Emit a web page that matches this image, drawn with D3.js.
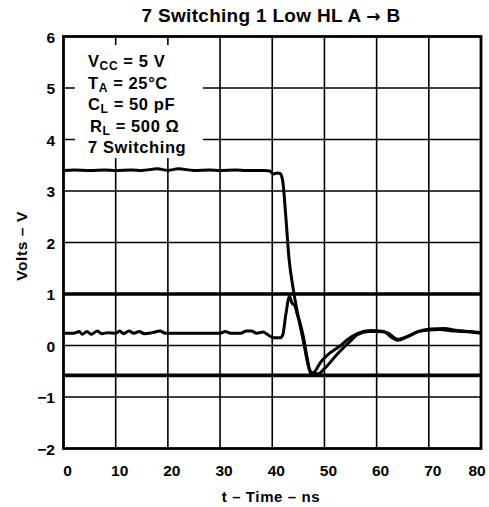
<!DOCTYPE html>
<html><head><meta charset="utf-8">
<script src="https://cdn.jsdelivr.net/npm/d3@7"></script>
<style>
html,body{margin:0;padding:0;background:#fff;}
svg{display:block;font-family:"Liberation Sans",Arial,Helvetica,sans-serif;font-weight:bold;}
</style></head>
<body><svg id="c" width="489" height="507"></svg>
<script>
const titleParts = ["7 Switching 1 Low HL A ", "\u2192", " B"];
const xLabel = "t \u2013 Time \u2013 ns";
const yLabel = "Volts \u2013 V";
const xTicks = [0,10,20,30,40,50,60,70,80];
const yTicks = [-2,-1,0,1,2,3,4,5,6];
const thresholds = [1, -0.58];
const legendLines = [
  ["V","CC"," = 5 V"],
  ["T","A"," = 25\u00B0C"],
  ["C","L"," = 50 pF"],
  ["R","L"," = 500 \u03A9"],
  ["7 Switching","",""]
];
// Trace A: switching output, high to low
const tA = [0,2,5,8,10,13,15,18,20,22,25,28,30,33,35,37,38.5,39.5,40.3,41,41.5,42,42.6,43.2,44.1,45.1,46,46.7,47.2,47.8,49.3,51,53.1,54.5,56.3,58.9,61.4,62.7,64,65.9,67.9,70.4,72.9,75.5,78.1,80];
const vA = [3.40,3.41,3.40,3.41,3.40,3.41,3.40,3.43,3.40,3.43,3.40,3.41,3.40,3.41,3.40,3.40,3.40,3.39,3.33,3.35,3.34,3.2,2.5,1.7,1.05,0.5,0.07,-0.3,-0.48,-0.53,-0.32,-0.15,0.0,0.12,0.23,0.29,0.27,0.17,0.1,0.17,0.27,0.32,0.33,0.29,0.27,0.25];
// Trace B: quiet low output with ground bounce
const tB = [0,2,3,3.6,4.5,5.3,6.5,7.3,8.5,10,10.8,11.5,12.5,13.5,14.5,15.5,17,18.5,19.5,25,30,31,32,34,35,36,37,38.3,39,40.2,41.5,42,42.6,43.3,43.8,44.3,44.8,45.3,45.9,46.6,47.2,47.6,48.8,50,52.6,55.1,56.3,58.5,60,62,64,66,68,70,72,75,78,80];
const vB = [0.24,0.24,0.27,0.22,0.27,0.22,0.28,0.23,0.25,0.24,0.28,0.23,0.28,0.24,0.27,0.23,0.25,0.28,0.24,0.24,0.24,0.27,0.24,0.24,0.28,0.28,0.24,0.26,0.22,0.15,0.15,0.2,0.6,0.95,0.82,0.78,0.6,0.45,0.2,-0.19,-0.5,-0.55,-0.55,-0.45,-0.15,0.1,0.21,0.27,0.27,0.25,0.12,0.18,0.27,0.3,0.31,0.28,0.26,0.24];

const svg = d3.select("#c");
const x = d3.scaleLinear().domain([0,80]).range([63.5,481]);
const y = d3.scaleLinear().domain([-2,6]).range([448.5,36.5]);

// grid
const g = svg.append("g");
g.selectAll(".vg").data(xTicks.slice(1,-1)).enter().append("line")
  .attr("x1",d=>x(d)).attr("x2",d=>x(d)).attr("y1",y(6)).attr("y2",y(-2))
  .attr("stroke","#000").attr("stroke-width",1.6);
g.selectAll(".hg").data(yTicks.slice(1,-1)).enter().append("line")
  .attr("y1",d=>y(d)).attr("y2",d=>y(d)).attr("x1",x(0)).attr("x2",x(80))
  .attr("stroke","#000").attr("stroke-width",1.6);
g.selectAll(".th").data(thresholds).enter().append("line")
  .attr("y1",d=>y(d)).attr("y2",d=>y(d)).attr("x1",x(0)).attr("x2",x(80))
  .attr("stroke","#000").attr("stroke-width",3.6);

// legend background box
svg.append("rect").attr("x",75).attr("y",45).attr("width",128).attr("height",113).attr("fill","#fff");

// traces
const line = d3.line().x(d=>x(d[0])).y(d=>y(d[1])).curve(d3.curveMonotoneX);
svg.append("path").datum(tA.map((t,i)=>[t,vA[i]])).attr("d",line)
  .attr("fill","none").attr("stroke","#000").attr("stroke-width",3).attr("stroke-linejoin","round");
svg.append("path").datum(tB.map((t,i)=>[t,vB[i]])).attr("d",line)
  .attr("fill","none").attr("stroke","#000").attr("stroke-width",3).attr("stroke-linejoin","round");

// frame
svg.append("rect").attr("x",x(0)).attr("y",y(6)).attr("width",x(80)-x(0)).attr("height",y(-2)-y(6))
  .attr("fill","none").attr("stroke","#000").attr("stroke-width",2.8);

// tick labels
svg.selectAll(".xl").data(xTicks).enter().append("text")
  .attr("x",d=>Math.min(x(d)+4, 477)).attr("y",y(-2)+27).attr("text-anchor","middle")
  .attr("font-size",15.5).text(d=>d);
svg.selectAll(".yl").data(yTicks).enter().append("text")
  .attr("x",55).attr("y",d=>y(d)+6).attr("text-anchor","end")
  .attr("font-size",15.5).text(d=>d<0?"\u2212"+Math.abs(d):d);

// title and axis labels
const tt = svg.append("text").attr("x",271).attr("y",22).attr("text-anchor","middle")
  .attr("font-size",19).attr("letter-spacing",0.3);
tt.append("tspan").text(titleParts[0]);
tt.append("tspan").attr("font-family","DejaVu Sans").attr("font-size",17).text(titleParts[1]);
tt.append("tspan").text(titleParts[2]);
svg.append("text").attr("x",271).attr("y",502).attr("text-anchor","middle")
  .attr("font-size",15).attr("letter-spacing",0.6).text(xLabel);
svg.append("text").attr("transform","translate(27,246) rotate(-90)").attr("text-anchor","middle")
  .attr("font-size",15.5).attr("letter-spacing",0.6).text(yLabel);

// legend text
const lg = svg.append("g");
legendLines.forEach((l,i)=>{
  const t = lg.append("text").attr("x", i===3?90:88).attr("y",67+i*21.5).attr("font-size",16.5).attr("letter-spacing",0.6);
  t.append("tspan").text(l[0]);
  if(l[1]) t.append("tspan").attr("font-size",12).attr("dy",3).text(l[1]);
  if(l[2]) t.append("tspan").attr("dy",l[1]?-3:0).text(l[2]);
});
</script></body></html>
